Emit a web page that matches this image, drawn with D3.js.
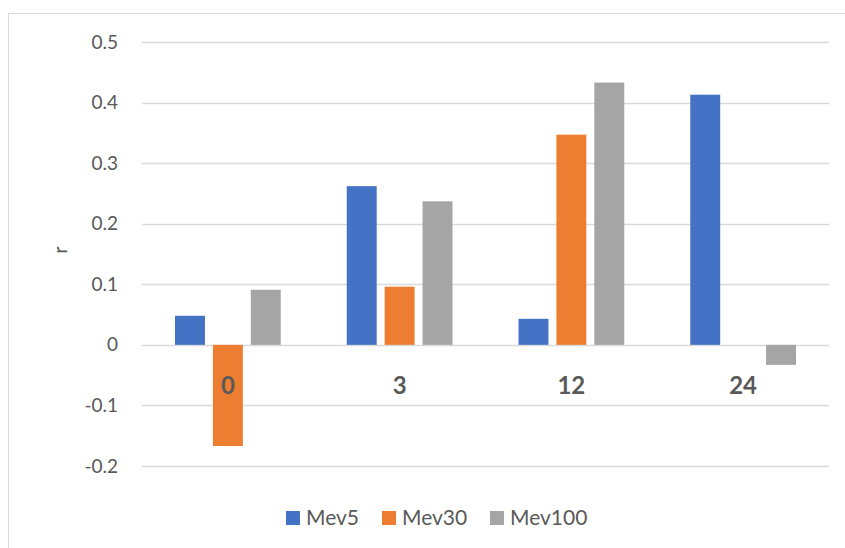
<!DOCTYPE html>
<html>
<head>
<meta charset="utf-8">
<script src="https://cdn.jsdelivr.net/npm/d3@7"></script>
<style>
body{margin:0;background:#fff;font-family:Lato,"Open Sans",sans-serif}
</style>
</head>
<body>
<div id="chart"></div>
<script>
var categories = ["0","3","12","24"]
var seriesNames = ["Mev5","Mev30","Mev100"]
var mev5 = [0.048,0.262,0.043,0.413]
var mev30 = [-0.167,0.096,0.347,null]
var mev100 = [0.091,0.237,0.433,-0.033]
var yTicks = [-0.2,-0.1,0,0.1,0.2,0.3,0.4,0.5]
var colors = ["#4472c4","#ed7d31","#a5a5a5"]

var width = 845, height = 548
var svg = d3.select("#chart").append("svg").attr("width",width).attr("height",height)

// outer chart border, runs off the right and bottom edges like the original
svg.append("rect").attr("x",8.5).attr("y",13.5).attr("width",860).attr("height",560)
    .style("fill","none").style("stroke","#d9d9d9")

var x0 = d3.scaleBand().domain(categories).range([142,829]).paddingInner(0).paddingOuter(0)
var x1 = d3.scaleBand().domain(seriesNames).range([33,x0.bandwidth()-33]).paddingInner(0.21)
var y = d3.scaleLinear().domain([-0.2,0.5]).range([466,42])

// gridlines
svg.append("g").selectAll("line")
    .data(yTicks)
    .enter().append("line")
    .attr("x1",142).attr("x2",829)
    .attr("y1",function(d){return Math.round(y(d))+0.5})
    .attr("y2",function(d){return Math.round(y(d))+0.5})
    .style("stroke","#d9d9d9").style("stroke-width",1.5)

// y axis labels (plain hyphen for negatives)
var yAxis = d3.axisLeft(y).tickValues(yTicks).tickSize(0).tickPadding(0)
    .tickFormat(function(d){return d==0 ? "0" : d.toFixed(1)})
var ya = svg.append("g").attr("transform","translate(118,0)").call(yAxis)
ya.select(".domain").remove()
ya.selectAll("text").style("font-family","Lato,'Open Sans',sans-serif")
    .style("font-size","19px").style("fill","#595959")

svg.append("text").attr("transform","translate(67,250) rotate(-90)")
    .attr("text-anchor","middle").style("font-size","19px").style("fill","#595959").text("r")

// bars
var allSeries = [mev5,mev30,mev100]
var rows = []
for(var s in allSeries){
    for(var c in categories){
        if(allSeries[s][c]!=null){
            rows.push({cat:categories[c],name:seriesNames[s],value:allSeries[s][c],color:colors[s]})
        }
    }
}
svg.append("g").selectAll("rect")
    .data(rows)
    .enter().append("rect")
    .attr("x",function(d){return x0(d.cat)+x1(d.name)})
    .attr("width",x1.bandwidth())
    .attr("y",function(d){return y(Math.max(0,d.value))})
    .attr("height",function(d){return Math.abs(y(d.value)-y(0))})
    .style("fill",function(d){return d.color})

// category labels
svg.append("g").selectAll("text")
    .data(categories)
    .enter().append("text")
    .attr("x",function(d){return x0(d)+x0.bandwidth()/2})
    .attr("y",394)
    .attr("text-anchor","middle")
    .style("font-size","24px").style("font-weight","bold").style("fill","#595959")
    .text(function(d){return d})

// legend
var legendX = [286,382,490]
var lg = svg.append("g").selectAll("g")
    .data(seriesNames)
    .enter().append("g")
    .attr("transform",function(d,i){return "translate("+legendX[i]+",511)"})
lg.append("rect").attr("width",14).attr("height",14)
    .style("fill",function(d,i){return colors[i]})
lg.append("text").attr("x",20).attr("y",14)
    .style("font-size","21px").style("fill","#595959")
    .text(function(d){return d})
</script>
</body>
</html>
